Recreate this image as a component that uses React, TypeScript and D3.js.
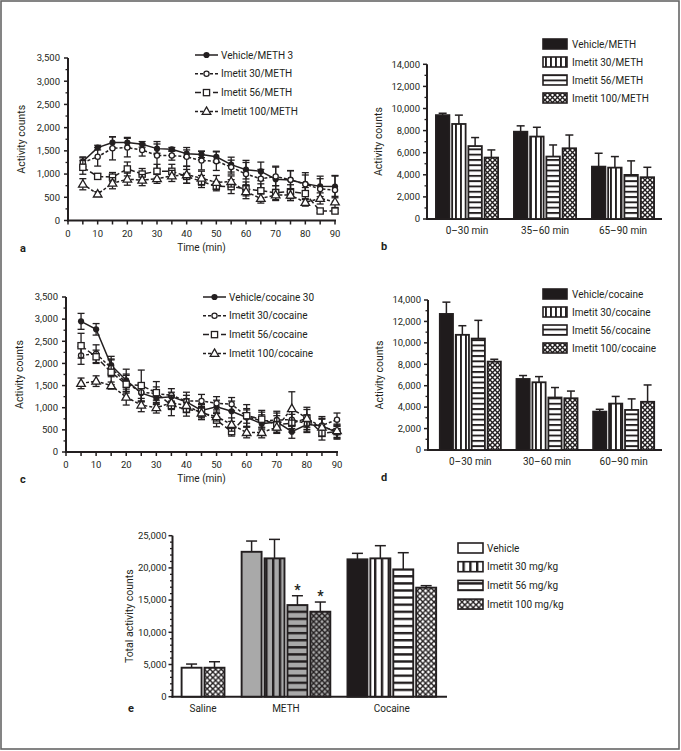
import React from 'react';
import * as d3 from 'd3';

// ---------- data ----------
const timePoints = [5, 10, 15, 20, 25, 30, 35, 40, 45, 50, 55, 60, 65, 70, 75, 80, 85, 90];
const timeTicks = [0, 10, 20, 30, 40, 50, 60, 70, 80, 90];
const timeMinorTicks = [5, 15, 25, 35, 45, 55, 65, 75, 85];
const lineYTicks = [0, 500, 1000, 1500, 2000, 2500, 3000, 3500];

const methLineNames = ['Vehicle/METH 3', 'Imetit 30/METH', 'Imetit 56/METH', 'Imetit 100/METH'];
const methVehicle = [1270, 1570, 1680, 1680, 1640, 1548, 1533, 1440, 1424, 1372, 1204, 1095, 1058, 890, 870, 790, 735, 730];
const methVehicleErr = [100, 50, 120, 110, 60, 100, 40, 80, 70, 120, 160, 200, 200, 280, 200, 240, 220, 240];
const methIm30 = [1250, 1372, 1555, 1570, 1518, 1400, 1400, 1372, 1290, 1278, 1150, 1000, 900, 950, 876, 780, 680, 657];
const methIm30Err = [100, 200, 250, 200, 130, 300, 100, 200, 200, 200, 150, 250, 200, 200, 200, 200, 220, 300];
const methIm56 = [1146, 950, 934, 1110, 1000, 1060, 1060, 950, 840, 740, 730, 680, 640, 600, 620, 580, 204, 204];
const methIm56Err = [150, 60, 100, 150, 120, 150, 150, 150, 130, 100, 150, 150, 150, 150, 150, 130, 40, 40];
const methIm100 = [781, 570, 803, 890, 870, 900, 960, 985, 912, 820, 840, 620, 475, 550, 547, 390, 475, 400];
const methIm100Err = [120, 50, 120, 130, 120, 100, 120, 180, 150, 150, 120, 150, 100, 120, 120, 80, 120, 120];

const cocLineNames = ['Vehicle/cocaine 30', 'Imetit 30/cocaine', 'Imetit 56/cocaine', 'Imetit 100/cocaine'];
const cocVehicle = [2950, 2770, 1960, 1620, 1330, 1220, 1250, 1130, 940, 1020, 920, 780, 640, 680, 460, 620, 590, 440];
const cocVehicleErr = [180, 130, 200, 250, 200, 150, 100, 150, 150, 150, 230, 200, 200, 200, 150, 150, 150, 150];
const cocIm30 = [2180, 2220, 1900, 1560, 1350, 1320, 1280, 1150, 1150, 1100, 1080, 800, 700, 720, 730, 640, 600, 730];
const cocIm30Err = [200, 200, 200, 200, 200, 150, 150, 200, 150, 150, 150, 150, 200, 200, 200, 200, 200, 150];
const cocIm56 = [2400, 2150, 1800, 1530, 1500, 1340, 1050, 960, 920, 720, 460, 820, 740, 620, 650, 760, 420, 460];
const cocIm56Err = [280, 150, 280, 200, 350, 250, 230, 150, 150, 150, 100, 250, 200, 200, 200, 200, 150, 150];
const cocIm100 = [1550, 1600, 1500, 1240, 1060, 1000, 1110, 1050, 880, 800, 620, 440, 440, 560, 980, 760, 560, 480];
const cocIm100Err = [120, 120, 80, 180, 150, 120, 150, 150, 150, 100, 150, 120, 120, 120, 380, 250, 200, 150];

const barYTicks = [0, 2000, 4000, 6000, 8000, 10000, 12000, 14000];

const methBarGroups = ['0–30 min', '35–60 min', '65–90 min'];
const methBarNames = ['Vehicle/METH', 'Imetit 30/METH', 'Imetit 56/METH', 'Imetit 100/METH'];
const methBarVehicle = [9400, 7900, 4740];
const methBarVehicleErr = [170, 530, 1210];
const methBarIm30 = [8600, 7460, 4650];
const methBarIm30Err = [800, 840, 1000];
const methBarIm56 = [6600, 5650, 3990];
const methBarIm56Err = [770, 1050, 1270];
const methBarIm100 = [5560, 6400, 3780];
const methBarIm100Err = [690, 1200, 900];

const cocBarGroups = ['0–30 min', '30–60 min', '60–90 min'];
const cocBarNames = ['Vehicle/cocaine', 'Imetit 30/cocaine', 'Imetit 56/cocaine', 'Imetit 100/cocaine'];
const cocBarVehicle = [12700, 6630, 3580];
const cocBarVehicleErr = [1100, 320, 220];
const cocBarIm30 = [10750, 6320, 4330];
const cocBarIm30Err = [850, 530, 670];
const cocBarIm56 = [10400, 4900, 3740];
const cocBarIm56Err = [1700, 930, 1030];
const cocBarIm100 = [8250, 4830, 4500];
const cocBarIm100Err = [220, 670, 1570];

const totalYTicks = [0, 5000, 10000, 15000, 20000, 25000];
const totalGroups = ['Saline', 'METH', 'Cocaine'];
const totalLegend = ['Vehicle', 'Imetit 30 mg/kg', 'Imetit 56 mg/kg', 'Imetit 100 mg/kg'];
const salineTotals = [4500, 4500];
const salineTotalsErr = [570, 930];
const methTotals = [22500, 21480, 14230, 13200];
const methTotalsErr = [1670, 2950, 1450, 1500];
const methSignificant = [false, false, true, true];
const cocaineTotals = [21330, 21480, 19770, 16930];
const cocaineTotalsErr = [930, 1970, 2590, 310];

// ---------- styles ----------
const INK = '#231f20';
const GRAY = '#a9a9a9';
const FONT = "Roboto, 'Noto Sans', sans-serif";
const fmt = d3.format(',');

type Kind = 'fc' | 'oc' | 'os' | 'ot';
const markerKinds: Kind[] = ['fc', 'oc', 'os', 'ot'];
const dashes = [undefined, '3,2', '6,2.5', '3,2'];

function Marker({ kind, x, y }: { kind: Kind; x: number; y: number }) {
  if (kind === 'fc') return <circle cx={x} cy={y} r={3.1} fill={INK} />;
  if (kind === 'oc') return <circle cx={x} cy={y} r={2.6} fill="#fff" stroke={INK} strokeWidth={1.3} />;
  if (kind === 'os') return <rect x={x - 3.1} y={y - 3.1} width={6.2} height={6.2} fill="#fff" stroke={INK} strokeWidth={1.3} />;
  const p = d3.symbol(d3.symbolTriangle, 32)() as string;
  return <path d={p} transform={`translate(${x},${y + 0.5})`} fill="#fff" stroke={INK} strokeWidth={1.3} />;
}

function YAxis({ scale, ticks, minor, x, labelOffset }: any) {
  const [r0, r1] = scale.range();
  return (
    <g>
      <line x1={x} x2={x} y1={r0 + 1} y2={r1} stroke={INK} strokeWidth={2} />
      {minor.map((t: number) => (
        <line key={'m' + t} x1={x - 2.5} x2={x} y1={scale(t)} y2={scale(t)} stroke={INK} strokeWidth={1.3} />
      ))}
      {ticks.map((t: number) => (
        <g key={t}>
          <line x1={x - 4} x2={x} y1={scale(t)} y2={scale(t)} stroke={INK} strokeWidth={1.5} />
          <text x={x - labelOffset} y={scale(t)} dy="0.35em" textAnchor="end" fontSize={9.5} fill={INK}>
            {fmt(t)}
          </text>
        </g>
      ))}
    </g>
  );
}

function LinePanel({ series, errs, names, left, right, top, bottom, legendX, legendTop, letter }: any) {
  const x = d3.scaleLinear().domain([0, 90]).range([left, right]);
  const y = d3.scaleLinear().domain([0, 3500]).range([bottom, top]);
  const line = d3.line<number>().x((_, i) => x(timePoints[i])).y((d) => y(d));
  const minorY = d3.range(250, 3500, 500);
  return (
    <g>
      <YAxis scale={y} ticks={lineYTicks} minor={minorY} x={left} labelOffset={8} />
      <line x1={left - 1} x2={right + 1} y1={bottom} y2={bottom} stroke={INK} strokeWidth={2} />
      {[...timeTicks, ...timeMinorTicks].map((t) => (
        <line key={t} x1={x(t)} x2={x(t)} y1={bottom} y2={bottom + 4} stroke={INK} strokeWidth={1.5} />
      ))}
      {timeTicks.map((t) => (
        <text key={t} x={x(t)} y={bottom + 16} textAnchor="middle" fontSize={9.5} fill={INK}>
          {t}
        </text>
      ))}
      <text x={(left + right) / 2} y={bottom + 30} textAnchor="middle" fontSize={10} fill={INK}>
        Time (min)
      </text>
      <text x={left - 43} y={(top + bottom) / 2} transform={`rotate(-90 ${left - 43} ${(top + bottom) / 2})`} textAnchor="middle" fontSize={10.5} fill={INK}>
        Activity counts
      </text>
      <text x={20} y={bottom + 31} fontSize={11} fontWeight="bold" fill={INK}>
        {letter}
      </text>
      {series.map((vals: number[], si: number) => (
        <g key={si}>
          <path d={line(vals) as string} fill="none" stroke={INK} strokeWidth={1.5} strokeDasharray={dashes[si]} />
          {vals.map((v, i) => {
            const cx = x(timePoints[i]);
            const e = errs[si][i];
            return (
              <g key={i}>
                <line x1={cx} x2={cx} y1={y(v - e)} y2={y(v + e)} stroke={INK} strokeWidth={1.3} />
                <line x1={cx - 3.5} x2={cx + 3.5} y1={y(v + e)} y2={y(v + e)} stroke={INK} strokeWidth={1.3} />
                <line x1={cx - 3.5} x2={cx + 3.5} y1={y(v - e)} y2={y(v - e)} stroke={INK} strokeWidth={1.3} />
              </g>
            );
          })}
          {vals.map((v, i) => (
            <Marker key={'m' + i} kind={markerKinds[si]} x={x(timePoints[i])} y={y(v)} />
          ))}
        </g>
      ))}
      {names.map((n: string, si: number) => {
        const ly = legendTop + si * 18.8;
        return (
          <g key={n}>
            <line x1={legendX} x2={legendX + 23} y1={ly} y2={ly} stroke={INK} strokeWidth={1.5} strokeDasharray={si === 0 ? undefined : si === 2 ? '6,3' : '3,2'} />
            <Marker kind={markerKinds[si]} x={legendX + 11.5} y={ly} />
            <text x={legendX + 26} y={ly} dy="0.35em" fontSize={10} fill={INK}>
              {n}
            </text>
          </g>
        );
      })}
    </g>
  );
}

const barFills = ['#1f1b1c', 'url(#vs-w)', 'url(#hs-w)', 'url(#xh-w)'];

function BarPanel({ groups, names, values, errs, left, right, bandLeft, top, bottom, legendX, legendTop, letter }: any) {
  const y = d3.scaleLinear().domain([0, 14000]).range([bottom, top]);
  const x0 = d3.scaleBand<string>().domain(groups).range([bandLeft, right]).paddingInner(0.18).paddingOuter(0.09);
  const x1 = d3.scaleBand<number>().domain([0, 1, 2, 3]).range([0, x0.bandwidth()]).paddingInner(0.06);
  const minor = d3.range(1000, 14000, 2000);
  return (
    <g>
      <YAxis scale={y} ticks={barYTicks} minor={minor} x={left} labelOffset={7} />
      <line x1={left - 1} x2={right} y1={bottom} y2={bottom} stroke={INK} strokeWidth={2} />
      {groups.map((g: string) => (
        <text key={g} x={(x0(g) as number) + x0.bandwidth() / 2} y={bottom + 15} textAnchor="middle" fontSize={10} fill={INK}>
          {g}
        </text>
      ))}
      <text x={left - 45} y={(top + bottom) / 2} transform={`rotate(-90 ${left - 45} ${(top + bottom) / 2})`} textAnchor="middle" fontSize={10.5} fill={INK}>
        Activity counts
      </text>
      <text x={381} y={bottom + 31} fontSize={11} fontWeight="bold" fill={INK}>
        {letter}
      </text>
      {values.map((vals: number[], si: number) =>
        vals.map((v, gi) => {
          const bx = (x0(groups[gi]) as number) + (x1(si) as number);
          const w = x1.bandwidth();
          const cx = bx + w / 2;
          const e = errs[si][gi];
          return (
            <g key={si + '-' + gi}>
              <line x1={cx} x2={cx} y1={y(v)} y2={y(v + e)} stroke={INK} strokeWidth={1.5} />
              <line x1={cx - 4} x2={cx + 4} y1={y(v + e)} y2={y(v + e)} stroke={INK} strokeWidth={1.5} />
              <rect x={bx + 0.9} y={y(v)} width={w - 1.8} height={bottom - y(v)} fill={barFills[si]} stroke={INK} strokeWidth={1.8} />
            </g>
          );
        })
      )}
      {names.map((n: string, si: number) => {
        const ly = legendTop + si * 18;
        return (
          <g key={n}>
            <rect x={legendX} y={ly - 5} width={24} height={10} fill={barFills[si]} stroke={INK} strokeWidth={1.6} />
            <text x={legendX + 29} y={ly} dy="0.35em" fontSize={10} fill={INK}>
              {n}
            </text>
          </g>
        );
      })}
    </g>
  );
}

function TotalPanel() {
  const left = 172.5;
  const right = 447;
  const top = 535.7;
  const bottom = 696.7;
  const y = d3.scaleLinear().domain([0, 25000]).range([bottom, top]);
  const groupGap = 0.62;
  const groupVals = [salineTotals, methTotals, cocaineTotals];
  const groupErrs = [salineTotalsErr, methTotalsErr, cocaineTotalsErr];
  const groupFills = [
    ['#fff', 'url(#xhL-w)'],
    [GRAY, 'url(#vsL-g)', 'url(#hsL-g)', 'url(#xhL-g)'],
    ['#1f1b1c', 'url(#vsL-w)', 'url(#hsL-w)', 'url(#xhL-w)'],
  ];
  const slots: { g: number; i: number; pos: number }[] = [];
  let k = 0;
  groupVals.forEach((vals, g) => vals.forEach((_, i) => { slots.push({ g, i, pos: k + g * groupGap }); k++; }));
  const x = d3.scaleLinear().domain([0, k + 2 * groupGap]).range([180.7, 438.2]);
  const unit = x(1) - x(0);
  const w = unit * 0.95;
  const minor = d3.range(1000, 25000, 1000).filter((t) => t % 5000 !== 0);
  const legendFills = ['#fff', 'url(#vsL-w)', 'url(#hsL-w)', 'url(#xhL-w)'];
  return (
    <g>
      <YAxis scale={y} ticks={totalYTicks} minor={minor} x={left} labelOffset={6} />
      <line x1={left - 1} x2={right} y1={bottom} y2={bottom} stroke={INK} strokeWidth={2} />
      {slots.map((s) => {
        const v = groupVals[s.g][s.i];
        const e = groupErrs[s.g][s.i];
        const bx = x(s.pos);
        const cx = bx + w / 2;
        return (
          <g key={s.g + '-' + s.i}>
            <line x1={cx} x2={cx} y1={y(v)} y2={y(v + e)} stroke={INK} strokeWidth={1.5} />
            <line x1={cx - 5.5} x2={cx + 5.5} y1={y(v + e)} y2={y(v + e)} stroke={INK} strokeWidth={1.5} />
            <rect x={bx + 0.9} y={y(v)} width={w - 1.8} height={bottom - y(v)} fill={groupFills[s.g][s.i]} stroke={INK} strokeWidth={1.9} />
            {s.g === 1 && methSignificant[s.i] && (
              <text x={cx} y={y(v + e) - 1} textAnchor="middle" fontSize={14} fontWeight="bold" fill={INK}>
                *
              </text>
            )}
          </g>
        );
      })}
      {totalGroups.map((gName, g) => {
        const ss = slots.filter((s) => s.g === g);
        const c = (x(ss[0].pos) + x(ss[ss.length - 1].pos) + w) / 2;
        return (
          <text key={gName} x={c} y={bottom + 15} textAnchor="middle" fontSize={10} fill={INK}>
            {gName}
          </text>
        );
      })}
      <text x={133} y={(top + bottom) / 2} transform={`rotate(-90 133 ${(top + bottom) / 2})`} textAnchor="middle" fontSize={10.5} fill={INK}>
        Total activity counts
      </text>
      <text x={128} y={bottom + 15} fontSize={11} fontWeight="bold" fill={INK}>
        e
      </text>
      {totalLegend.map((n, si) => {
        const ly = 548 + si * 18.7;
        return (
          <g key={n}>
            <rect x={458} y={ly - 5} width={25} height={10} fill={legendFills[si]} stroke={INK} strokeWidth={1.6} />
            <text x={487} y={ly} dy="0.35em" fontSize={10} fill={INK}>
              {n}
            </text>
          </g>
        );
      })}
    </g>
  );
}

function Patterns() {
  const bgs: [string, string][] = [['w', '#fff'], ['g', GRAY]];
  const sizes: [string, number, number, number][] = [
    ['', 5, 1.9, 5],
    ['L', 6.8, 2.4, 5.6],
  ];
  return (
    <defs>
      {bgs.map(([k, bg]) =>
        sizes.map(([s, per, thick, xper]) => (
          <React.Fragment key={k + s}>
            <pattern id={`vs${s}-${k}`} patternUnits="userSpaceOnUse" width={per} height={per}>
              <rect width={per} height={per} fill={bg} />
              <rect x={0} y={0} width={thick} height={per} fill={INK} />
            </pattern>
            <pattern id={`hs${s}-${k}`} patternUnits="userSpaceOnUse" width={per} height={per + 0.3}>
              <rect width={per} height={per + 0.3} fill={bg} />
              <rect x={0} y={0} width={per} height={thick} fill={INK} />
            </pattern>
            <pattern id={`xh${s}-${k}`} patternUnits="userSpaceOnUse" width={xper} height={xper}>
              <rect width={xper} height={xper} fill={bg} />
              <path d={`M-1,-1L${xper + 1},${xper + 1}M${xper + 1},-1L-1,${xper + 1}`} stroke={INK} strokeWidth={1.4} />
            </pattern>
          </React.Fragment>
        ))
      )}
    </defs>
  );
}

export default function App() {
  return (
    <svg width={681} height={751} style={{ position: 'absolute', left: 0, top: 0, background: '#fff', fontFamily: FONT }}>
      <Patterns />
      <rect x={1} y={1} width={678} height={748} fill="#fff" stroke="#666" strokeWidth={1.6} />
      <LinePanel
        series={[methVehicle, methIm30, methIm56, methIm100]}
        errs={[methVehicleErr, methIm30Err, methIm56Err, methIm100Err]}
        names={methLineNames}
        left={68} right={335} top={58} bottom={220.5}
        legendX={195} legendTop={55} letter="a"
      />
      <BarPanel
        groups={methBarGroups} names={methBarNames}
        values={[methBarVehicle, methBarIm30, methBarIm56, methBarIm100]}
        errs={[methBarVehicleErr, methBarIm30Err, methBarIm56Err, methBarIm100Err]}
        left={427} bandLeft={428} right={662} top={64.3} bottom={219}
        legendX={543} legendTop={44} letter="b"
      />
      <LinePanel
        series={[cocVehicle, cocIm30, cocIm56, cocIm100]}
        errs={[cocVehicleErr, cocIm30Err, cocIm56Err, cocIm100Err]}
        names={cocLineNames}
        left={66} right={337} top={297} bottom={452}
        legendX={203} legendTop={297} letter="c"
      />
      <BarPanel
        groups={cocBarGroups} names={cocBarNames}
        values={[cocBarVehicle, cocBarIm30, cocBarIm56, cocBarIm100]}
        errs={[cocBarVehicleErr, cocBarIm30Err, cocBarIm56Err, cocBarIm100Err]}
        left={428} bandLeft={432} right={662} top={300} bottom={450}
        legendX={543} legendTop={294} letter="d"
      />
      <TotalPanel />
    </svg>
  );
}
